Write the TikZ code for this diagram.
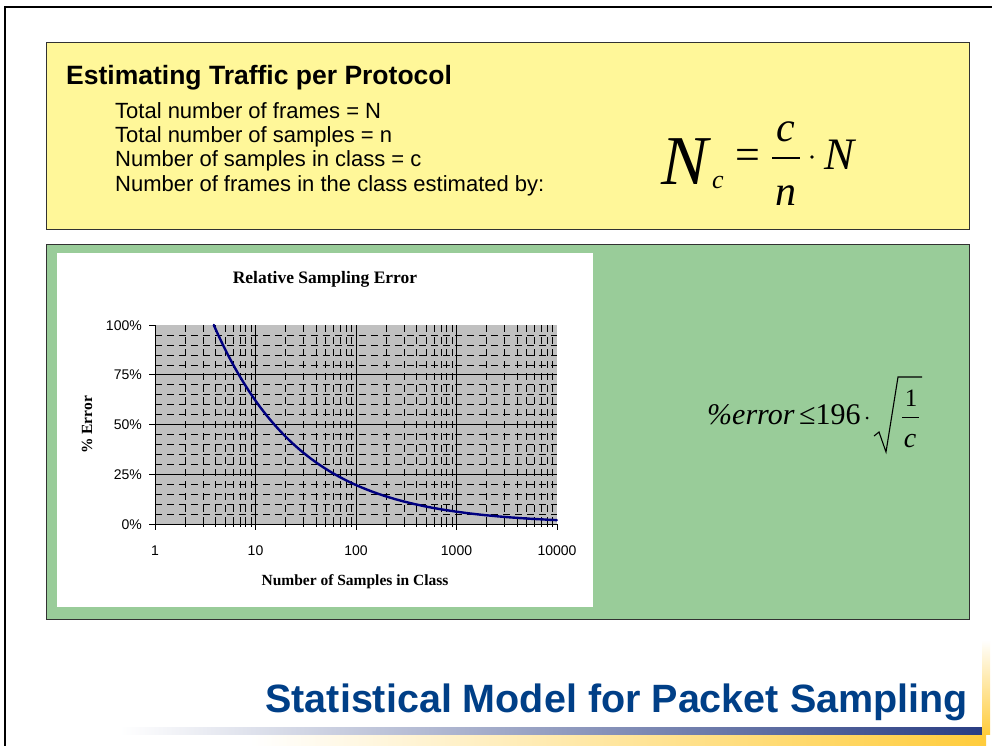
\documentclass[tikz,border=0pt]{standalone}
\usepackage{fontspec}
\setmainfont{Liberation Sans}
\newfontfamily\tnr{Liberation Serif}
\definecolor{boxyellow}{RGB}{255,247,153}
\definecolor{boxgreen}{RGB}{153,204,153}
\definecolor{plotgray}{RGB}{192,192,192}
\definecolor{curvenavy}{RGB}{0,0,128}
\definecolor{titleblue}{RGB}{0,63,135}
\definecolor{barnavy}{RGB}{40,60,130}
\definecolor{baryellow}{RGB}{255,204,60}
\tikzset{
  panel/.style={draw={rgb,255:red,50;green,50;blue,50}, line width=1pt},
  bodytxt/.style={anchor=base west, inner sep=0pt, font=\fontsize{22}{26}\selectfont},
  ticklbl/.style={inner sep=0pt, font=\fontsize{14}{16}\selectfont},
  serifb/.style={inner sep=0pt, font=\tnr\bfseries\fontsize{15.5}{18}\selectfont},
  mth/.style={inner sep=0pt, anchor=base, font=\tnr\itshape},
  minorgrid/.style={black, line width=0.6pt, dash pattern=on 7pt off 5pt},
  majorgrid/.style={black, line width=0.8pt},
}
\begin{document}
\begin{tikzpicture}[x=1pt,y=-1pt]
\useasboundingbox (0,0) rectangle (992,746);
\fill[white] (0,0) rectangle (992,746);
% frame
\draw[line width=2pt] (5,746) -- (5,7) -- (992,7);
% yellow panel
\draw[panel, fill=boxyellow] (46,43) rectangle (969,229);
\node[anchor=base west, inner sep=0pt, font=\bfseries\fontsize{26.5}{30}\selectfont] (head) at (66,85) {Estimating Traffic per Protocol};
\node[bodytxt] (l1) at (115,119) {Total number of frames = N};
\node[bodytxt] (l2) at (115,143) {Total number of samples = n};
\node[bodytxt] (l3) at (115,167) {Number of samples in class = c};
\node[bodytxt] (l4) at (115,191) {Number of frames in the class estimated by:};
% formula N_c = c/n . N
\node[mth, anchor=base west, font=\tnr\itshape\fontsize{70}{70}\selectfont] (fN) at (661,185) {N};
\node[mth, anchor=base west, font=\tnr\itshape\fontsize{26}{26}\selectfont] (fc) at (712,188) {c};
\node[mth, font=\tnr\fontsize{44}{44}\selectfont] (feq) at (748,170) {=};
\node[mth, font=\tnr\itshape\fontsize{42}{42}\selectfont] (fnum) at (786,142) {c};
\node[mth, font=\tnr\itshape\fontsize{42}{42}\selectfont] (fden) at (786,205) {n};
\coordinate (fb1) at (772,158);
\coordinate (fb2) at (800,158);
\draw[line width=1.3pt] (fb1) -- (fb2);
\fill (812,157) circle (1.8);
\node[mth, anchor=base west, font=\tnr\itshape\fontsize{45}{45}\selectfont] (fN2) at (824,170) {N};
% green panel
\draw[panel, fill=boxgreen] (46,244) rectangle (969,619);
\fill[white] (57,253) rectangle (593,607);
% plot area
\fill[plotgray] (155,325) rectangle (557,524);
\foreach \d in {0,1,2,3}{
  \foreach \k in {2,...,9}{
    \pgfmathsetmacro{\xx}{155+100.5*(\d+log10(\k))}
    \draw[minorgrid] (\xx,325) -- (\xx,524);
    \draw[black, line width=0.6pt] (\xx,524) -- (\xx,527);
  }
}
\foreach \p in {5,10,...,95}{
  \pgfmathsetmacro{\yy}{524-1.99*\p}
  \draw[minorgrid] (155,\yy) -- (557,\yy);
}
\foreach \d in {1,2,3}{
  \pgfmathsetmacro{\xx}{155+100.5*\d}
  \draw[majorgrid] (\xx,325) -- (\xx,524);
}
\foreach \p in {25,50,75}{
  \pgfmathsetmacro{\yy}{524-1.99*\p}
  \draw[majorgrid] (155,\yy) -- (557,\yy);
}
% axes
\draw[majorgrid] (155,325) -- (155,524) -- (557,524);
\foreach \p/\lab [count=\i] in {0/0\%,25/25\%,50/50\%,75/75\%,100/100\%}{
  \pgfmathsetmacro{\yy}{524-1.99*\p}
  \draw[majorgrid] (149,\yy) -- (155,\yy);
  \node[ticklbl, anchor=base east] (yl\i) at (142,\yy+5) {\lab};
}
\foreach \d/\lab [count=\i] in {0/1,1/10,2/100,3/1000,4/10000}{
  \pgfmathsetmacro{\xx}{155+100.5*\d}
  \draw[majorgrid] (\xx,524) -- (\xx,530);
  \node[ticklbl, anchor=base] (xl\i) at (\xx,555) {\lab};
}
% curve
\draw[curvenavy, line width=2.4pt, line cap=round] plot[domain=0.5845:4, samples=120, smooth] ({155+100.5*\x},{524-1.99*196*exp(-1.1512925*\x)});
% chart labels
\node[serifb, anchor=base, font=\tnr\bfseries\fontsize{17.5}{20}\selectfont] (ctitle) at (325,283) {Relative Sampling Error};
\node[serifb, anchor=base] (xlab) at (355,585) {Number of Samples in Class};
\node[serifb, rotate=90, font=\tnr\bfseries\fontsize{15.5}{18}\selectfont] (ylab) at (87,425) {\% Error};
% formula %error <= 196 . sqrt(1/c)
\node[mth, anchor=base west, font=\tnr\itshape\fontsize{30}{30}\selectfont] (eerr) at (707,424) {\%error};
\node[mth, anchor=base west, font=\tnr\fontsize{30}{30}\selectfont] (ele) at (799,424) {≤196};
\fill (867,418) circle (1.5);
\coordinate (r1) at (874,436);
\coordinate (r2) at (879,432);
\coordinate (r3) at (886,452);
\coordinate (r4) at (898,377);
\coordinate (r5) at (922,377);
\draw[line width=1.1pt, line join=miter] (r1) -- (r2) -- (r3) -- (r4) -- (r5);
\node[mth, font=\tnr\fontsize{25}{25}\selectfont] (eone) at (911,406) {1};
\coordinate (sb1) at (902,417);
\coordinate (sb2) at (919,417);
\draw[line width=1pt] (sb1) -- (sb2);
\node[mth, font=\tnr\itshape\fontsize{28}{28}\selectfont] (ec) at (910,447) {c};
% bottom title and decorative bars
\node[anchor=base east, inner sep=0pt, text=titleblue, font=\bfseries\fontsize{39.5}{44}\selectfont] (title) at (968,712) {Statistical Model for Packet Sampling};
\shade[left color=white, right color=baryellow] (250,733) rectangle (986,746);
\shade[left color=white, right color=barnavy] (120,727) rectangle (986,734);
\shade[top color=white, bottom color=baryellow] (982,640) rectangle (990,734);
\end{tikzpicture}
\end{document}
